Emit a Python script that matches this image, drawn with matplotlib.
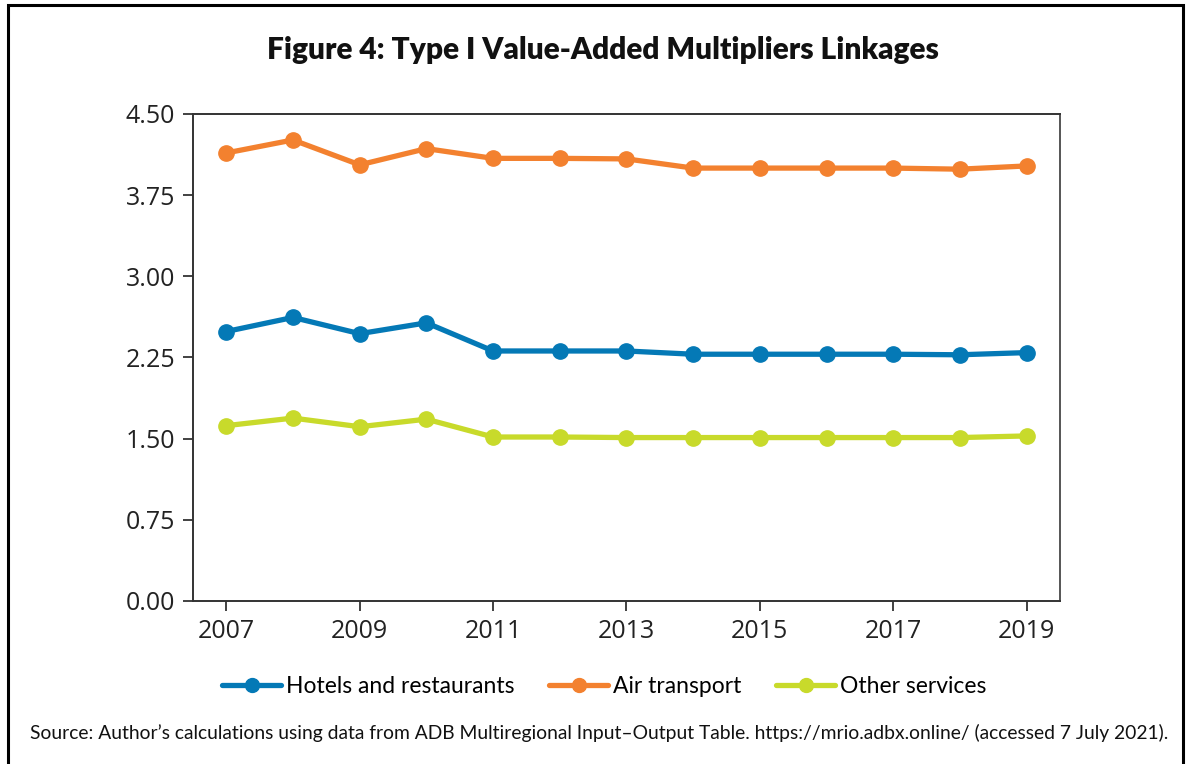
import matplotlib
matplotlib.use('Agg')
import matplotlib.pyplot as plt
from matplotlib.patches import Rectangle

# Data
years = list(range(2007, 2020))
hotels = [2.49, 2.62, 2.47, 2.57, 2.31, 2.31, 2.31, 2.28, 2.28, 2.28, 2.28, 2.275, 2.295]
air = [4.14, 4.26, 4.03, 4.18, 4.09, 4.09, 4.085, 4.00, 4.00, 4.00, 4.00, 3.99, 4.02]
other = [1.62, 1.69, 1.61, 1.68, 1.515, 1.515, 1.51, 1.51, 1.51, 1.51, 1.51, 1.51, 1.525]
series_names = ['Hotels and restaurants', 'Air transport', 'Other services']
series_colors = ['#0479B6', '#F3812F', '#C8DA2B']
y_ticks = [0.0, 0.75, 1.5, 2.25, 3.0, 3.75, 4.5]
x_ticks = [2007, 2009, 2011, 2013, 2015, 2017, 2019]

fig = plt.figure(figsize=(11.89, 7.64), dpi=100)
ax = fig.add_axes([0.1623, 0.2134, 0.7292, 0.6374])

for vals, name, col in zip([hotels, air, other], series_names, series_colors):
    ax.plot(years, vals, color=col, lw=3.8, marker='o', ms=11, label=name,
            solid_capstyle='round')

ax.set_xlim(2006.5, 2019.5)
ax.set_ylim(0, 4.5)
ax.set_yticks(y_ticks)
ax.set_yticklabels([f'{v:.2f}' for v in y_ticks])
ax.set_xticks(x_ticks)
ax.set_xticklabels([str(x) for x in x_ticks])
ax.tick_params(axis='both', direction='out', length=7, width=1.3, color='#333333',
               labelsize=18, labelcolor='#222222', pad=6)
for lab in ax.get_xticklabels() + ax.get_yticklabels():
    lab.set_family('Open Sans')
for sp in ax.spines.values():
    sp.set_color('#333333')
    sp.set_linewidth(1.4)
ax.spines['right'].set_color('#555555')

fig.text(0.507, 0.934, 'Figure 4: Type I Value-Added Multipliers Linkages',
         ha='center', va='center', fontsize=21.5, fontweight='heavy', family='Lato',
         color='#111111')

leg = fig.legend(loc='center', bbox_to_anchor=(0.508, 0.102), ncol=3, frameon=False,
                 handlelength=2.6, columnspacing=1.5, handletextpad=0.2,
                 prop={'family': 'Lato', 'size': 16.5})
for h in leg.legend_handles:
    h.set_markersize(10)

fig.text(0.504, 0.041,
         'Source: Author\u2019s calculations using data from ADB Multiregional Input\u2013Output Table. '
         'https://mrio.adbx.online/ (accessed 7 July 2021).',
         ha='center', va='center', fontsize=13.9, family='Lato', color='#111111')

# outer frame around the whole figure
fig.patches.append(Rectangle((0.0065, -0.05), 0.9885, 1.043, transform=fig.transFigure,
                             fill=False, edgecolor='black', linewidth=2.2))

fig.savefig('out.png', dpi=100)
